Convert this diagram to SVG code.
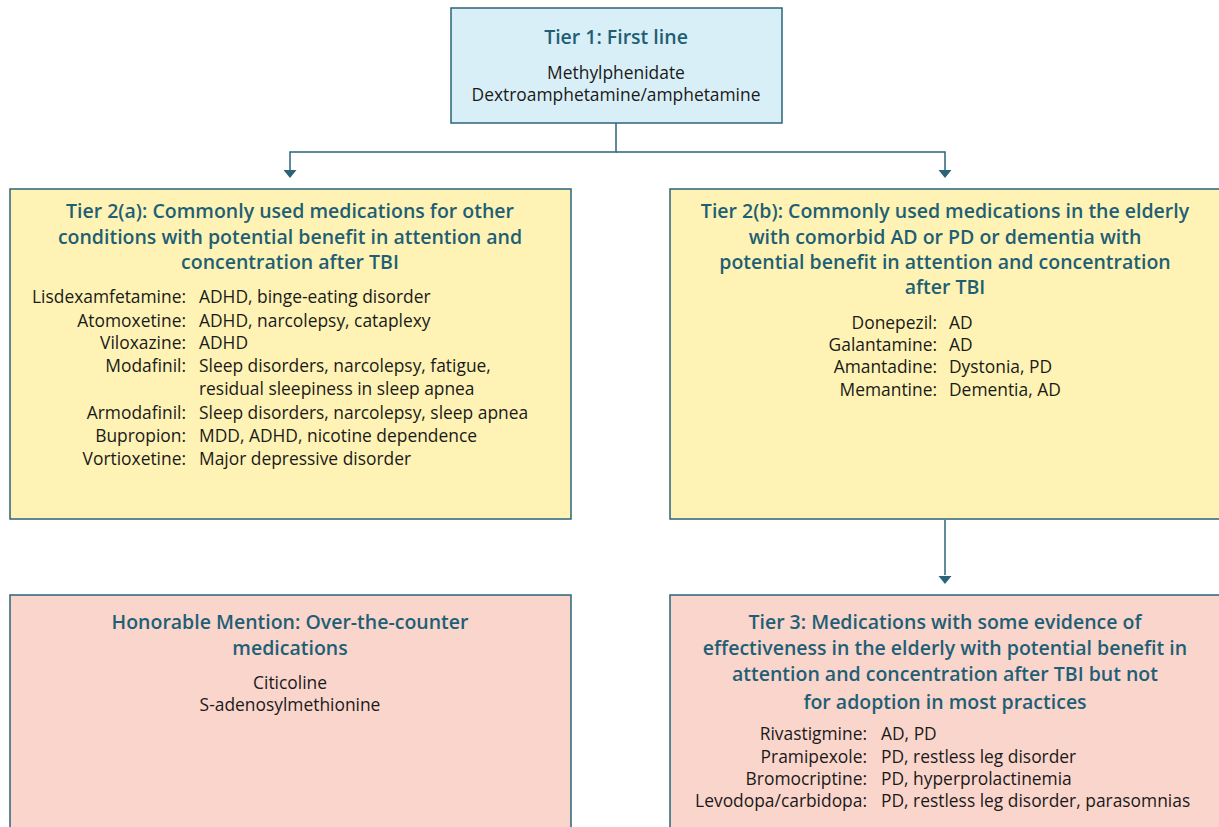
<svg xmlns="http://www.w3.org/2000/svg" width="1219" height="827" viewBox="0 0 1219 827">
<defs>
<style>
.box{stroke:#2b6479;stroke-width:1.5}
.blue{fill:#d9eff7}
.yellow{fill:#fef3b4}
.pink{fill:#fad5cc}
.title{font-family:"Open Sans","Liberation Sans",sans-serif;font-weight:600;font-size:19.5px;fill:#1f5f75;text-anchor:middle}
.body{font-family:"Open Sans","Liberation Sans",sans-serif;font-size:17.4px;fill:#1a1a1a}
.c{text-anchor:middle}
.r{text-anchor:end}
.conn{fill:none;stroke:#2b6479;stroke-width:1.5}
.head{fill:#2b6479}
</style>
</defs>
<rect width="1219" height="827" fill="#ffffff"/>
<g id="connectors">
<path class="conn" d="M616,123 V152 H290 V170"/>
<path class="conn" d="M616,152 H945 V170"/>
<path class="conn" d="M945,520 V575"/>
<path class="head" d="M283.5,170 L296.5,170 L290,178 Z"/>
<path class="head" d="M938.5,170 L951.5,170 L945,178 Z"/>
<path class="head" d="M938.5,576 L951.5,576 L945,584 Z"/>
</g>
<g id="tier1">
<rect class="box blue" x="451" y="8" width="331" height="115"/>
<text class="title" x="616" y="44">Tier 1: First line</text>
<text class="body c" x="616" y="79">Methylphenidate</text>
<text class="body c" x="616" y="101">Dextroamphetamine/amphetamine</text>
</g>
<g id="tier2a">
<rect class="box yellow" x="10" y="189" width="561" height="330"/>
<text class="title" x="290" y="218">Tier 2(a): Commonly used medications for other</text>
<text class="title" x="290" y="244">conditions with potential benefit in attention and</text>
<text class="title" x="290" y="269">concentration after TBI</text>
<g class="body">
<text class="r" x="186" y="303">Lisdexamfetamine:</text><text x="199" y="303">ADHD, binge-eating disorder</text>
<text class="r" x="186" y="327">Atomoxetine:</text><text x="199" y="327">ADHD, narcolepsy, cataplexy</text>
<text class="r" x="186" y="349">Viloxazine:</text><text x="199" y="349">ADHD</text>
<text class="r" x="186" y="372">Modafinil:</text><text x="199" y="372">Sleep disorders, narcolepsy, fatigue,</text>
<text x="199" y="395">residual sleepiness in sleep apnea</text>
<text class="r" x="186" y="419">Armodafinil:</text><text x="199" y="419">Sleep disorders, narcolepsy, sleep apnea</text>
<text class="r" x="186" y="442">Bupropion:</text><text x="199" y="442">MDD, ADHD, nicotine dependence</text>
<text class="r" x="186" y="465">Vortioxetine:</text><text x="199" y="465">Major depressive disorder</text>
</g>
</g>
<g id="tier2b">
<rect class="box yellow" x="670" y="189" width="560" height="330"/>
<text class="title" x="945" y="218">Tier 2(b): Commonly used medications in the elderly</text>
<text class="title" x="945" y="244">with comorbid AD or PD or dementia with</text>
<text class="title" x="945" y="269">potential benefit in attention and concentration</text>
<text class="title" x="945" y="294">after TBI</text>
<g class="body">
<text class="r" x="937" y="329">Donepezil:</text><text x="949" y="329">AD</text>
<text class="r" x="937" y="351">Galantamine:</text><text x="949" y="351">AD</text>
<text class="r" x="937" y="373">Amantadine:</text><text x="949" y="373">Dystonia, PD</text>
<text class="r" x="937" y="396">Memantine:</text><text x="949" y="396">Dementia, AD</text>
</g>
</g>
<g id="honorable">
<rect class="box pink" x="10" y="595" width="561" height="250"/>
<text class="title" x="290" y="629">Honorable Mention: Over-the-counter</text>
<text class="title" x="290" y="655">medications</text>
<text class="body c" x="290" y="689">Citicoline</text>
<text class="body c" x="290" y="711">S-adenosylmethionine</text>
</g>
<g id="tier3">
<rect class="box pink" x="670" y="595" width="560" height="250"/>
<text class="title" x="945" y="629">Tier 3: Medications with some evidence of</text>
<text class="title" x="945" y="655">effectiveness in the elderly with potential benefit in</text>
<text class="title" x="945" y="681">attention and concentration after TBI but not</text>
<text class="title" x="945" y="709">for adoption in most practices</text>
<g class="body">
<text class="r" x="867" y="740">Rivastigmine:</text><text x="881" y="740">AD, PD</text>
<text class="r" x="867" y="763">Pramipexole:</text><text x="881" y="763">PD, restless leg disorder</text>
<text class="r" x="867" y="785">Bromocriptine:</text><text x="881" y="785">PD, hyperprolactinemia</text>
<text class="r" x="867" y="807">Levodopa/carbidopa:</text><text x="881" y="807">PD, restless leg disorder, parasomnias</text>
</g>
</g>
</svg>
